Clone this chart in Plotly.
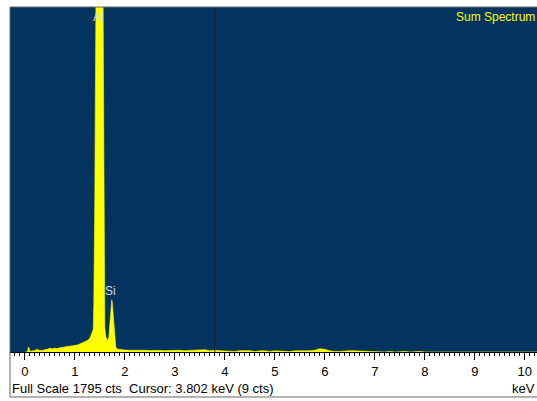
import plotly.graph_objects as go

# Spectrum channels (keV) and counts
energy_low = [0.00, 0.05, 0.07, 0.08, 0.10, 0.15, 0.20, 0.25, 0.27, 0.30, 0.35, 0.40, 0.45,
              0.50, 0.55, 0.60, 0.65, 0.70, 0.75, 0.80, 0.85, 0.90, 0.95, 1.00, 1.05,
              1.10, 1.15, 1.20, 1.25, 1.30]
counts_low = [0, 0, 22, 26, 4, 6, 8, 16, 10, 9, 8, 12, 14,
              20, 17, 20, 18, 22, 24, 25, 27, 28, 30, 32, 36,
              42, 48, 52, 60, 72]

energy_peaks = [1.32, 1.34, 1.36, 1.37, 1.38, 1.39, 1.40, 1.41, 1.42, 1.43, 1.44, 1.46,
                1.48, 1.50, 1.52, 1.54, 1.55, 1.56, 1.57, 1.58, 1.59, 1.60, 1.62,
                1.64, 1.66, 1.68, 1.70, 1.72, 1.73, 1.74, 1.75, 1.76, 1.78, 1.80,
                1.82, 1.85, 1.90]
counts_peaks = [85, 100, 110, 118, 250, 480, 790, 1300, 1700, 2100, 2700, 3800,
                4600, 4900, 4500, 3300, 2600, 1900, 1300, 800, 350, 130, 80,
                66, 58, 75, 140, 225, 262, 272, 255, 220, 125, 50,
                25, 15, 12]

energy_bg = [2.0, 2.1, 2.2, 2.3, 2.4, 2.5, 2.6, 2.7, 2.8, 2.9, 3.0, 3.1, 3.2, 3.3, 3.4,
             3.5, 3.6, 3.7, 3.8, 3.9, 4.0, 4.1, 4.2, 4.3, 4.4, 4.5, 4.6, 4.7, 4.8, 4.9,
             5.0, 5.1, 5.2, 5.3, 5.4, 5.5, 5.6, 5.7, 5.8, 5.9, 6.0, 6.1, 6.2, 6.3, 6.4,
             6.5, 6.6, 6.7, 6.8, 6.9, 7.0, 7.1, 7.2, 7.3, 7.4, 7.5, 7.6, 7.7, 7.8, 7.9,
             8.0, 8.5, 9.0, 9.5, 10.0, 10.5]
counts_bg = [10, 9, 10, 8, 9, 8, 9, 8, 7, 8, 8, 9, 7, 8, 7,
             8, 12, 7, 9, 7, 6, 7, 3, 7, 6, 7, 2, 6, 6, 3,
             6, 5, 6, 2, 6, 5, 6, 7, 9, 17, 14, 6, 2, 3, 6,
             7, 6, 5, 2, 1, 3, 2, 0, 3, 0, 1, 3, 0, 1, 3,
             0, 0, 0, 0, 0, 0]

energy = energy_low + energy_peaks + energy_bg
counts = counts_low + counts_peaks + counts_bg

tick_vals = [0, 1, 2, 3, 4, 5, 6, 7, 8, 9, 10]
tick_text = ["0", "1", "2", "3", "4", "5", "6", "7", "8", "9", "10"]

full_scale = 1795
cursor_kev = 3.802

BLUE = "#03335f"
YELLOW = "#ffff00"
FONT = "Liberation Sans, Arial, sans-serif"

fig = go.Figure()
fig.add_trace(go.Scatter(
    x=energy, y=counts, mode="lines", fill="tozeroy",
    line=dict(color=YELLOW, width=0.6), fillcolor=YELLOW,
    hoverinfo="skip", showlegend=False,
))

fig.update_layout(
    width=537, height=401,
    margin=dict(l=10, r=0, t=7, b=49, autoexpand=False),
    paper_bgcolor="white", plot_bgcolor=BLUE,
    font=dict(family=FONT, size=13, color="black"),
    xaxis=dict(
        range=[-0.296, 10.244], tickvals=tick_vals, ticktext=tick_text,
        ticks="outside", ticklen=7, tickcolor="black", tickwidth=1,
        showgrid=False, zeroline=False, showline=True, linecolor="black", linewidth=1,
        tickfont=dict(family=FONT, size=13, color="black"),
        minor=dict(dtick=0.1, tick0=0, ticks="outside", ticklen=3, tickcolor="black", showgrid=False),
        automargin=False, fixedrange=True,
    ),
    yaxis=dict(
        range=[0, full_scale], showticklabels=False, showgrid=False, zeroline=False,
        ticks="", showline=False, automargin=False, fixedrange=True,
    ),
    shapes=[
        dict(type="line", xref="x", yref="paper", x0=cursor_kev, x1=cursor_kev, y0=0, y1=1,
             line=dict(color="#1a2230", width=1)),
        dict(type="rect", xref="paper", yref="paper", x0=0, x1=1.01, y0=-0.1304, y1=1,
             line=dict(color="#666666", width=1), fillcolor="rgba(0,0,0,0)"),
    ],
    annotations=[
        dict(text="Al", xref="x", yref="paper", x=1.47, y=(352 - 17) / 345, showarrow=False,
             xanchor="center", yanchor="middle", font=dict(family=FONT, size=12, color="#d8dce8")),
        dict(text="Si", xref="x", yref="paper", x=1.72, y=(352 - 291) / 345, showarrow=False,
             xanchor="center", yanchor="middle", font=dict(family=FONT, size=12, color="#d8dce8")),
        dict(text="Sum Spectrum", xref="paper", yref="paper", x=1.0, y=(352 - 17) / 345,
             showarrow=False, xanchor="right", yanchor="middle",
             font=dict(family=FONT, size=12, color=YELLOW)),
        dict(text=f"Full Scale {full_scale} cts  Cursor: {cursor_kev:.3f} keV (9 cts)",
             xref="paper", yref="paper", x=0, y=(352 - 388) / 345, showarrow=False,
             xanchor="left", yanchor="middle", font=dict(family=FONT, size=13, color="black")),
        dict(text="keV", xref="paper", yref="paper", x=1.0, y=(352 - 388) / 345,
             showarrow=False, xanchor="right", yanchor="middle",
             font=dict(family=FONT, size=13, color="black")),
    ],
)

fig.write_html(
    "out.html",
    config={"displayModeBar": False, "staticPlot": True},
    post_script="document.body.style.margin='0';document.body.style.overflow='hidden';",
)
